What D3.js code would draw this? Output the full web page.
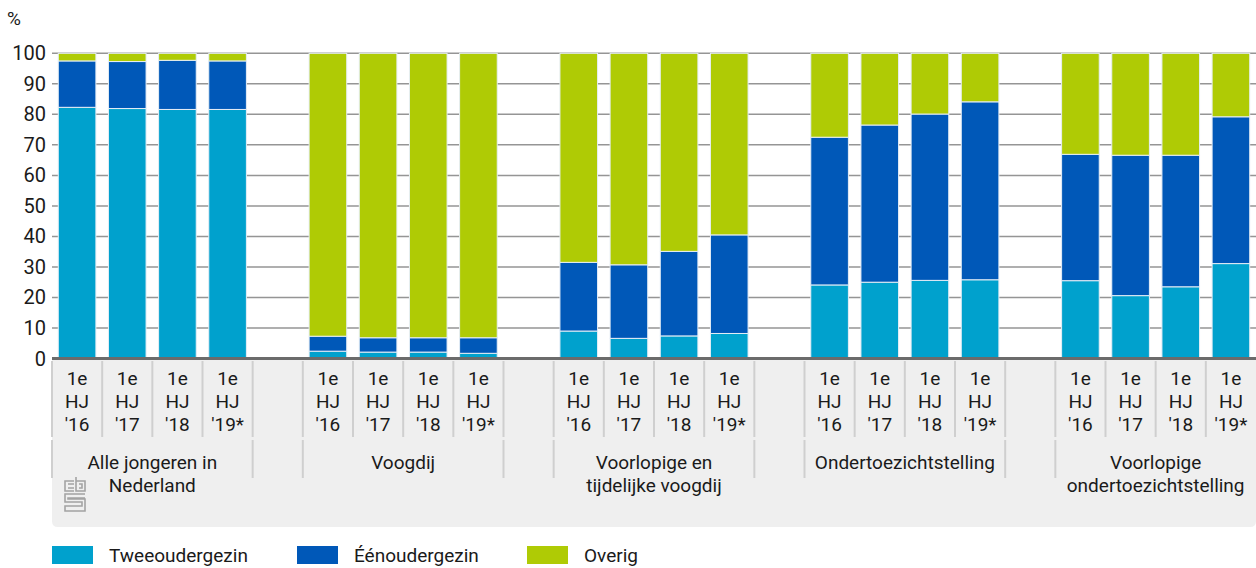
<!DOCTYPE html>
<html>
<head>
<meta charset="utf-8">
<script src="https://cdn.jsdelivr.net/npm/d3@7"></script>
<style>
  body { margin: 0; background: #fff; }
  svg { display: block; font-family: Roboto, "Noto Sans", sans-serif; }
</style>
</head>
<body>
<svg id="chart" width="1256" height="568"></svg>
<script>
// categories
var groups = ["Alle jongeren in|Nederland", "Voogdij", "Voorlopige en|tijdelijke voogdij",
              "Ondertoezichtstelling", "Voorlopige|ondertoezichtstelling"];
var periods = ["'16", "'17", "'18", "'19*"];
var yTicks = [0, 10, 20, 30, 40, 50, 60, 70, 80, 90, 100];

// series values (%), per group, per period
var tweeouder = [
  [82.3, 81.9, 81.6, 81.6],
  [2.4, 2.1, 2.1, 1.7],
  [9.0, 6.6, 7.4, 8.2],
  [24.1, 25.0, 25.6, 25.8],
  [25.5, 20.6, 23.5, 31.1]
];
var eenouder = [
  [15.2, 15.4, 16.1, 15.9],
  [4.9, 4.7, 4.7, 5.1],
  [22.5, 24.1, 27.7, 32.3],
  [48.4, 51.5, 54.5, 58.3],
  [41.4, 46.0, 43.1, 48.1]
];
var overig = [
  [2.5, 2.7, 2.3, 2.5],
  [92.7, 93.2, 93.2, 93.2],
  [68.5, 69.3, 64.9, 59.5],
  [27.5, 23.5, 19.9, 15.9],
  [33.1, 33.4, 33.4, 20.8]
];

var seriesNames = ["Tweeoudergezin", "Éénoudergezin", "Overig"];
var colors = ["#00a1cd", "#0058b8", "#afcb05"];

var fontSize = "19px";
var textColor = "#1a1a1a";

var svg = d3.select("#chart");

// one slot per bar, plus an empty slot between groups
var slots = [];
groups.forEach(function(g, gi) {
  periods.forEach(function(p, pi) {
    slots.push({key: gi + "-" + pi, group: gi, period: p,
      vals: [tweeouder[gi][pi], eenouder[gi][pi], overig[gi][pi]]});
  });
  if (gi < groups.length - 1) slots.push({key: "gap" + gi, group: -1});
});

var x = d3.scaleBand()
  .domain(slots.map(function(d) { return d.key; }))
  .range([52, 1256])
  .paddingInner(0.25)
  .paddingOuter(0.125);

var y = d3.scaleLinear().domain([0, 100]).range([358.5, 53.3]);

var step = x.step();
function slotLeft(k) { return x(k) - x.paddingInner() * step / 2; }

// label area background
var bgTop = 360, bgBottom = 527, r = 6;
svg.append("path")
  .attr("d", "M52," + bgTop + "H1256V" + (bgBottom - r) +
    "Q1256," + bgBottom + " " + (1256 - r) + "," + bgBottom +
    "H" + (52 + r) + "Q52," + bgBottom + " 52," + (bgBottom - r) + "Z")
  .attr("fill", "#efefef");

// gridlines
svg.append("g")
  .selectAll("line")
  .data(yTicks.filter(function(t) { return t > 0; }))
  .enter()
  .append("line")
  .attr("x1", 52).attr("x2", 1256)
  .attr("y1", function(d) { return y(d); })
  .attr("y2", function(d) { return y(d); })
  .attr("stroke", "#959595")
  .attr("stroke-width", 1.5);

// y tick labels
svg.append("g")
  .selectAll("text")
  .data(yTicks)
  .enter()
  .append("text")
  .attr("x", 46)
  .attr("y", function(d) { return y(d) + 7; })
  .attr("text-anchor", "end")
  .style("font-size", "20px")
  .style("fill", textColor)
  .text(function(d) { return d; });

svg.append("text")
  .attr("x", 7).attr("y", 25)
  .style("font-size", fontSize)
  .style("fill", textColor)
  .text("%");

// stacked bars
var bars = svg.append("g");
slots.filter(function(d) { return d.group >= 0; }).forEach(function(d) {
  var base = 0;
  d.vals.forEach(function(v, i) {
    bars.append("rect")
      .attr("x", x(d.key))
      .attr("width", x.bandwidth())
      .attr("y", y(base + v))
      .attr("height", y(base) - y(base + v))
      .attr("fill", colors[i])
      .attr("stroke", "#e6eef6")
      .attr("stroke-width", 1);
    base += v;
  });
});

// zero axis
svg.append("line")
  .attr("x1", 52).attr("x2", 1256)
  .attr("y1", y(0)).attr("y2", y(0))
  .attr("stroke", "#6b6b6b")
  .attr("stroke-width", 3);

// slot separators in the period row
var sep = svg.append("g").attr("stroke", "#cfcfcf").attr("stroke-width", 2);
slots.forEach(function(d) {
  var l = slotLeft(d.key);
  sep.append("line").attr("x1", l).attr("x2", l).attr("y1", 361).attr("y2", 437);
});

// group separators (groups and gaps)
var groupEdges = [];
slots.forEach(function(d, i) {
  var prev = slots[i - 1];
  if (i === 0 || d.group === -1 || (prev && prev.group === -1)) groupEdges.push(slotLeft(d.key));
});
groupEdges.forEach(function(l) {
  sep.append("line").attr("x1", l).attr("x2", l).attr("y1", 440).attr("y2", 478);
});

// period labels
var tickLabels = svg.append("g")
  .style("font-size", fontSize)
  .style("fill", textColor)
  .attr("text-anchor", "middle");
slots.filter(function(d) { return d.group >= 0; }).forEach(function(d) {
  var cx = x(d.key) + x.bandwidth() / 2;
  ["1e", "HJ", d.period].forEach(function(t, li) {
    tickLabels.append("text")
      .attr("x", cx)
      .attr("y", 385 + li * 23)
      .text(t);
  });
});

// group labels
groups.forEach(function(g, gi) {
  var first = x(gi + "-0"), last = x(gi + "-3") + x.bandwidth();
  var cx = (first + last) / 2;
  g.split("|").forEach(function(line, li) {
    svg.append("text")
      .attr("x", cx)
      .attr("y", 469 + li * 23)
      .attr("text-anchor", "middle")
      .style("font-size", fontSize)
      .style("fill", textColor)
      .text(line);
  });
});

// cbs logo
var logo = svg.append("g")
  .attr("transform", "translate(64,477)")
  .attr("fill", "none")
  .attr("stroke", "#a3a3a3")
  .attr("stroke-width", 1.6);
logo.append("path").attr("d", "M10,4H1V14H10");
logo.append("path").attr("d", "M4,7H10M4,11H10");
logo.append("path").attr("d", "M12,0V14H21V4H12M15,7H18V11H15");
logo.append("path").attr("d", "M21,17H1V25H18V29H1V34H21V22H4V21H21");

// legend
var legend = svg.append("g");
var legendX = [52, 297, 527];
seriesNames.forEach(function(name, i) {
  legend.append("rect")
    .attr("x", legendX[i]).attr("y", 546)
    .attr("width", 41).attr("height", 18)
    .attr("fill", colors[i]);
  legend.append("text")
    .attr("x", legendX[i] + 57).attr("y", 562)
    .style("font-size", fontSize)
    .style("fill", textColor)
    .text(name);
});
</script>
</body>
</html>
